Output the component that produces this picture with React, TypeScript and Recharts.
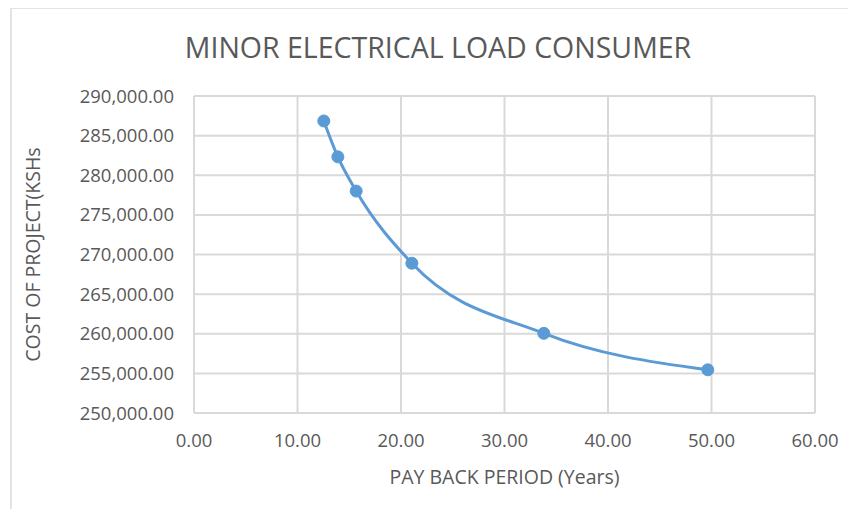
import React from 'react';
import {
  LineChart,
  Line,
  XAxis,
  YAxis,
  CartesianGrid,
  Label,
} from 'recharts';

const paybackYears = [12.54, 13.9, 15.67, 21.05, 33.8, 49.64];
const projectCost = [286850, 282320, 278000, 268900, 260050, 255450];
const xTicks = [0, 10, 20, 30, 40, 50, 60];
const yTicks = [250000, 255000, 260000, 265000, 270000, 275000, 280000, 285000, 290000];

const TEXT = '#595959';
const GRID = '#D9D9D9';
const BLUE = '#5B9BD5';
const FONT = '"Open Sans", sans-serif';

const data = paybackYears.map((x, i) => ({ x, cost: projectCost[i] }));

const fmt = (v: number) =>
  v.toLocaleString('en-US', { minimumFractionDigits: 2, maximumFractionDigits: 2 });

export default function App() {
  return (
    <div
      style={{
        position: 'relative',
        margin: -8,
        width: 856,
        height: 517,
        background: '#fff',
        fontFamily: FONT,
        overflow: 'hidden',
      }}
    >
      {/* chart frame, only top and left edges visible */}
      <div
        style={{
          position: 'absolute',
          left: 10,
          top: 7,
          width: 900,
          height: 600,
          borderTop: '2px solid #E3E3E3',
          borderLeft: '2px solid #E3E3E3',
        }}
      />
      <div
        style={{
          position: 'absolute',
          top: 28,
          left: 0,
          width: 876,
          textAlign: 'center',
          color: TEXT,
          fontSize: 28.5,
          lineHeight: '38px',
        }}
      >
        MINOR ELECTRICAL LOAD CONSUMER
      </div>
      <div style={{ position: 'absolute', left: 0, top: 0 }}>
        <LineChart
          width={856}
          height={517}
          data={data}
          margin={{ top: 96, right: 41, bottom: 0, left: 0 }}
        >
          <CartesianGrid stroke={GRID} strokeWidth={2} horizontal vertical />
          <XAxis
            dataKey="x"
            type="number"
            domain={[0, 60]}
            ticks={xTicks}
            tickFormatter={fmt}
            axisLine={{ stroke: GRID, strokeWidth: 2 }}
            tickLine={false}
            tickSize={6}
            tickMargin={15}
            tick={{ fill: TEXT, fontSize: 18.5, fontFamily: FONT }}
            height={104}
          >
            <Label
              value="PAY BACK PERIOD (Years)"
              position="insideTop"
              offset={57}
              fill={TEXT}
              fontSize={19.5}
              fontFamily={FONT}
            />
          </XAxis>
          <YAxis
            type="number"
            domain={[250000, 290000]}
            ticks={yTicks}
            tickFormatter={fmt}
            axisLine={{ stroke: GRID, strokeWidth: 2 }}
            tickLine={false}
            tickSize={6}
            tickMargin={14}
            tick={{ fill: TEXT, fontSize: 18.5, fontFamily: FONT }}
            width={194}
          >
            <Label
              value="COST OF PROJECT(KSHs"
              angle={-90}
              position="insideLeft"
              offset={33}
              style={{ textAnchor: 'middle' }}
              fill={TEXT}
              fontSize={19.5}
              fontFamily={FONT}
            />
          </YAxis>
          <Line
            dataKey="cost"
            type="monotone"
            stroke={BLUE}
            strokeWidth={3}
            dot={{ r: 6, fill: BLUE, stroke: BLUE, strokeWidth: 1 }}
            activeDot={false}
            isAnimationActive={false}
          />
        </LineChart>
      </div>
    </div>
  );
}
